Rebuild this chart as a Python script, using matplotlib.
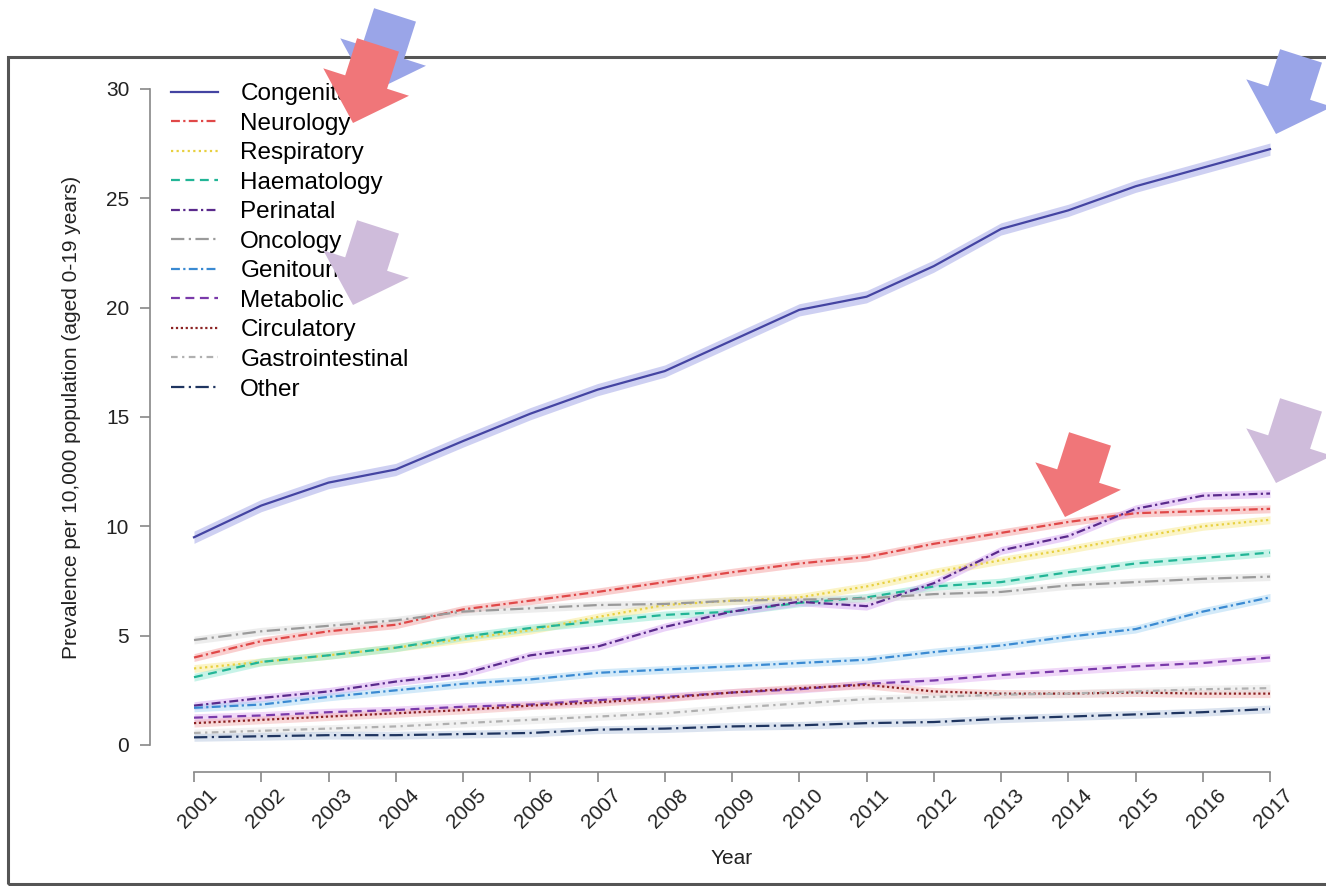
import matplotlib
matplotlib.use("Agg")
import matplotlib.pyplot as plt
from matplotlib.patches import Polygon, Rectangle
from matplotlib.transforms import ScaledTranslation
import numpy as np

plt.rcParams['font.family'] = ['Liberation Sans', 'DejaVu Sans']

years = list(range(2001, 2018))

congenital = [9.5, 10.95, 12.0, 12.6, 13.9, 15.15, 16.25, 17.1, 18.5, 19.9, 20.5, 21.9, 23.6, 24.45, 25.55, 26.4, 27.25]
neurology = [4.0, 4.75, 5.2, 5.5, 6.2, 6.6, 7.0, 7.45, 7.9, 8.3, 8.6, 9.2, 9.7, 10.2, 10.6, 10.7, 10.8]
respiratory = [3.5, 3.8, 4.1, 4.45, 4.85, 5.25, 5.85, 6.4, 6.6, 6.75, 7.25, 7.9, 8.45, 8.95, 9.5, 10.0, 10.3]
haematology = [3.1, 3.8, 4.1, 4.45, 4.95, 5.35, 5.65, 5.95, 6.1, 6.5, 6.75, 7.25, 7.45, 7.9, 8.3, 8.55, 8.8]
perinatal = [1.8, 2.15, 2.45, 2.9, 3.25, 4.1, 4.5, 5.4, 6.1, 6.55, 6.35, 7.4, 8.9, 9.55, 10.8, 11.4, 11.5]
oncology = [4.8, 5.2, 5.45, 5.7, 6.1, 6.25, 6.4, 6.45, 6.6, 6.65, 6.7, 6.9, 7.0, 7.3, 7.45, 7.6, 7.7]
genitourinary = [1.7, 1.85, 2.2, 2.5, 2.8, 3.0, 3.3, 3.45, 3.6, 3.75, 3.9, 4.25, 4.55, 4.95, 5.3, 6.1, 6.75]
metabolic = [1.25, 1.35, 1.5, 1.6, 1.75, 1.85, 2.05, 2.2, 2.4, 2.55, 2.8, 2.95, 3.2, 3.4, 3.6, 3.75, 4.0]
circulatory = [1.0, 1.15, 1.3, 1.45, 1.6, 1.8, 1.95, 2.15, 2.4, 2.6, 2.75, 2.45, 2.35, 2.35, 2.4, 2.35, 2.35]
gastro = [0.55, 0.65, 0.75, 0.85, 1.0, 1.15, 1.3, 1.45, 1.7, 1.9, 2.1, 2.2, 2.3, 2.35, 2.45, 2.55, 2.6]
other = [0.35, 0.4, 0.45, 0.45, 0.5, 0.55, 0.7, 0.75, 0.85, 0.9, 1.0, 1.05, 1.2, 1.3, 1.4, 1.5, 1.65]

labels = ['Congenital', 'Neurology', 'Respiratory', 'Haematology', 'Perinatal', 'Oncology',
          'Genitourinary', 'Metabolic', 'Circulatory', 'Gastrointestinal', 'Other']
series = [congenital, neurology, respiratory, haematology, perinatal, oncology,
          genitourinary, metabolic, circulatory, gastro, other]
colors = ['#4444a2', '#e04848', '#e8d040', '#22b596', '#5a2a8c', '#9a9a9a',
          '#3a8ad2', '#7a3aaa', '#8b2222', '#b0b0b0', '#1f3560']
bands = ['#9ea2e6', '#f5a0a0', '#f8ea90', '#90e8d2', '#d6a6f2', '#dddddd',
         '#a8d6f4', '#e2b2f2', '#f2b4b4', '#e4e4e4', '#b8c8e0']
styles = ['-', (0, (4, 1.5, 1, 1.5)), (0, (1, 1.5)), (0, (4, 2.5)), (0, (4, 1.5, 1, 1.5)),
          (0, (6, 2, 1, 2)), (0, (4, 1.5, 1, 1.5)), (0, (4, 2.5)), (0, (1, 1.2)),
          (0, (3, 2, 1, 2)), (0, (6, 2, 1, 2))]

# overlay arrows: tip position (px), colour
arrow_tips = [(370, 93), (353, 123), (1276, 134), (1276, 483), (1065, 517), (353, 305)]
arrow_colors = ['#9aa5e8', '#f07679', '#9aa5e8', '#cfbcdb', '#f07679', '#cfbcdb']

W, H = 1326, 886
fig = plt.figure(figsize=(W / 100, H / 100), dpi=100)
ax = fig.add_axes([194 / W, 1 - 745 / H, 1076 / W, 656 / H])

for vals, lab, c, b, ls in zip(series, labels, colors, bands, styles):
    v = np.array(vals)
    hw = 0.28 if lab == 'Congenital' else 0.18
    ax.fill_between(years, v - hw, v + hw, color=b, alpha=0.5, lw=0, clip_on=False)
    ax.plot(years, v, color=c, lw=1.6, linestyle=ls, label=lab, clip_on=False)

ax.set_xlim(2001, 2017)
ax.set_ylim(0, 30)
for s in ['top', 'right']:
    ax.spines[s].set_visible(False)
ax.spines['left'].set_position(('outward', 31.7))
ax.spines['bottom'].set_position(('outward', 19.4))
ax.spines['left'].set_bounds(0, 30)
ax.spines['bottom'].set_bounds(2001, 2017)
for s in ['left', 'bottom']:
    ax.spines[s].set_color('#888888')
    ax.spines[s].set_linewidth(1.2)
ax.tick_params(axis='both', length=7, width=1.2, color='#888888', labelcolor='#222222', labelsize=15)
ax.tick_params(axis='y', pad=8)
ax.tick_params(axis='x', pad=3, labelrotation=45)
ax.set_xticks(years)
ax.set_xticklabels([str(y) for y in years])
shift = ScaledTranslation(4 / 100, 0, fig.dpi_scale_trans)
for lbl in ax.get_xticklabels():
    lbl.set_ha('center')
    lbl.set_transform(lbl.get_transform() + shift)
ax.set_yticks([0, 5, 10, 15, 20, 25, 30])
ax.set_xlabel('Year', fontsize=15, color='#222222', labelpad=12)
ax.set_ylabel('Prevalence per 10,000 population (aged 0-19 years)', fontsize=15,
              color='#222222', labelpad=18)
ax.patch.set_visible(False)

ax.legend(loc='upper left', bbox_to_anchor=(171 / W, 1 - 83 / H), bbox_transform=fig.transFigure,
          frameon=False, fontsize=17.5, handlelength=1.95, handletextpad=0.9,
          labelspacing=0.31, borderpad=0, borderaxespad=0)

# outer frame
fig.add_artist(Rectangle((8 / W, 1 - 884 / H), 1.2, (884 - 57) / H, transform=fig.transFigure,
                         fill=False, edgecolor='#555555', lw=2.2, clip_on=False))

# arrows
d = np.array([-25.0, 78.0])
u = d / np.linalg.norm(d)
n = np.array([-u[1], u[0]])
for tip, col in zip(arrow_tips, arrow_colors):
    tip = np.array(tip, dtype=float)
    tail = tip - u * 82
    neck = tip - u * 43
    pts = [tail + n * 22, neck + n * 22, neck + n * 45, tip, neck - n * 45, neck - n * 22, tail - n * 22]
    pts = [(p[0] / W, 1 - p[1] / H) for p in pts]
    fig.add_artist(Polygon(pts, closed=True, transform=fig.transFigure, facecolor=col,
                           edgecolor='none', zorder=10, clip_on=False))

fig.savefig('out.png', dpi=100)
